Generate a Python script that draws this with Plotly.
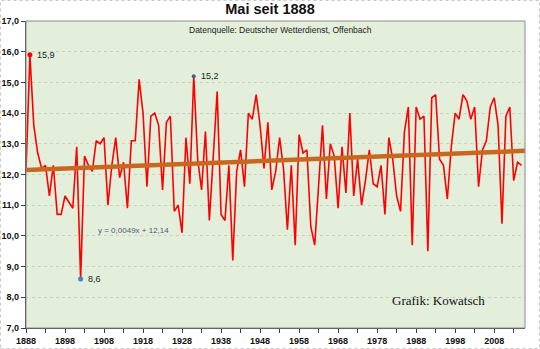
import plotly.graph_objects as go

# Mean May temperature in Germany (°C), 1888-2015
years = list(range(1888, 2016))
temps = [
    12.1, 15.9, 13.6, 12.7, 12.2, 12.3, 11.3, 12.3, 10.7, 10.7,  # 1888-1897
    11.3, 11.1, 10.9, 12.9, 8.6, 12.6, 12.3, 12.1, 13.1, 13.0,   # 1898-1907
    13.2, 11.0, 12.3, 13.2, 11.9, 12.4, 10.9, 13.1, 13.1, 15.1,  # 1908-1917
    14.0, 11.6, 13.9, 14.0, 13.6, 11.5, 13.7, 13.9, 10.8, 11.0,  # 1918-1927
    10.1, 13.2, 11.7, 15.2, 12.5, 11.5, 13.4, 10.5, 12.6, 14.7,  # 1928-1937
    10.7, 10.5, 12.3, 9.2, 12.1, 12.8, 11.6, 14.0, 13.8, 14.6,   # 1938-1947
    13.6, 12.2, 13.7, 11.5, 12.1, 13.2, 12.2, 10.2, 12.3, 9.7,   # 1948-1957
    13.3, 12.7, 12.8, 10.3, 9.7, 11.7, 13.6, 11.2, 13.0, 12.6,   # 1958-1967
    10.9, 12.9, 11.4, 14.0, 11.3, 12.5, 11.0, 11.8, 12.8, 11.7,  # 1968-1977
    11.6, 12.3, 10.7, 13.2, 12.5, 11.3, 10.8, 13.4, 14.2, 9.7,   # 1978-1987
    14.2, 13.8, 13.9, 9.5, 14.5, 14.6, 12.5, 12.3, 11.2, 12.9,   # 1988-1997
    14.0, 13.8, 14.6, 14.4, 13.8, 14.2, 11.6, 12.8, 13.1, 14.2,  # 1998-2007
    14.5, 13.6, 10.4, 13.9, 14.2, 11.8, 12.4, 12.3,              # 2008-2015
]

# Linear trend y = 0,0049x + 12,14 with x = 1 for the first year
slope = 0.0049
intercept = 12.14
x_end = 2015.9
trend_x = [years[0], x_end]
trend_y = [slope * (x - years[0] + 1) + intercept for x in trend_x]

# Highlighted extremes
hi_year, hi_val = 1889, 15.9
hi2_year, hi2_val = 1931, 15.2
lo_year, lo_val = 1902, 8.6

tick_years = list(range(1888, 2016, 5))
tick_text = [str(y) if (y - 1888) % 10 == 0 else "" for y in tick_years]

label_font = dict(family="Liberation Sans, Arial", size=9, color="#222222")

fig = go.Figure()

fig.add_trace(go.Scatter(
    x=years, y=temps, mode="lines",
    line=dict(color="#FF0000", width=1.6),
    hoverinfo="x+y", showlegend=False,
))

fig.add_trace(go.Scatter(
    x=trend_x, y=trend_y, mode="lines",
    line=dict(color="#C8681E", width=4.5),
    showlegend=False, hoverinfo="skip",
))

fig.add_trace(go.Scatter(
    x=[hi_year], y=[hi_val], mode="markers",
    marker=dict(color="#FF0000", size=5),
    showlegend=False,
))
fig.add_trace(go.Scatter(
    x=[hi2_year], y=[hi2_val], mode="markers",
    marker=dict(color="#4A5A8C", size=4),
    showlegend=False,
))
fig.add_trace(go.Scatter(
    x=[lo_year], y=[lo_val], mode="markers",
    marker=dict(color="#3E86C8", size=5),
    showlegend=False,
))

fig.update_layout(
    width=540, height=349,
    margin=dict(l=26, r=15, t=21, b=21),
    paper_bgcolor="white",
    plot_bgcolor="#E3EFDA",
    separators=",.",
    title=dict(
        text="<b>Mai seit 1888</b>",
        x=0.5, xanchor="center", y=0.988, yanchor="top",
        font=dict(family="Liberation Sans, Arial", size=14.5, color="#111111"),
    ),
    xaxis=dict(
        range=[years[0], x_end], automargin=False,
        tickvals=tick_years, ticktext=tick_text,
        ticks="outside", ticklen=4, tickcolor="#404040",
        showline=True, linecolor="#404040", linewidth=1.2,
        showgrid=False, zeroline=False,
        tickfont=dict(family="Liberation Sans, Arial", size=9, color="#111111", weight="bold"),
    ),
    yaxis=dict(
        range=[7, 17], dtick=1, tickformat=".1f", automargin=False,
        ticks="outside", ticklen=4, tickcolor="#404040",
        showline=True, linecolor="#404040", linewidth=1.2,
        showgrid=True, gridcolor="#C8D2C0", griddash="dot", gridwidth=1,
        zeroline=False,
        tickfont=dict(family="Liberation Sans, Arial", size=9, color="#111111", weight="bold"),
    ),
    shapes=[
        # plot area frame
        dict(type="rect", xref="paper", yref="paper", x0=0, y0=0, x1=1, y1=1,
             line=dict(color="#8C8C8C", width=1), layer="above"),
        # outer chart border
        dict(type="rect", xref="paper", yref="paper",
             x0=-25.5 / 499, y0=-20.5 / 307, x1=1 + 14.5 / 499, y1=1 + 20.5 / 307,
             line=dict(color="#C8C8C8", width=1, dash="dot")),
    ],
    annotations=[
        dict(text="15,9", x=hi_year, y=hi_val, xref="x", yref="y",
             xanchor="left", yanchor="middle", xshift=5, showarrow=False, font=label_font),
        dict(text="15,2", x=hi2_year, y=hi2_val, xref="x", yref="y",
             xanchor="left", yanchor="middle", xshift=5, showarrow=False, font=label_font),
        dict(text="8,6", x=lo_year, y=lo_val, xref="x", yref="y",
             xanchor="left", yanchor="middle", xshift=5, showarrow=False, font=label_font),
        dict(text="Datenquelle: Deutscher Wetterdienst, Offenbach",
             xref="paper", yref="paper", x=0.51, y=0.993, xanchor="center", yanchor="top",
             showarrow=False,
             font=dict(family="Liberation Sans Narrow, Arial Narrow, Liberation Sans", size=8.5, color="#222222")),
        dict(text="y = 0,0049x + 12,14",
             xref="paper", yref="y", x=0.14, y=10.17, xanchor="left", yanchor="middle",
             showarrow=False,
             font=dict(family="Liberation Sans, Arial", size=8, color="#4A5A7A")),
        dict(text="Grafik: Kowatsch",
             xref="paper", yref="y", x=0.73, y=7.9, xanchor="left", yanchor="middle",
             showarrow=False,
             font=dict(family="Liberation Serif, Times New Roman", size=13, color="#111111")),
    ],
)

fig.write_html("out.html")
